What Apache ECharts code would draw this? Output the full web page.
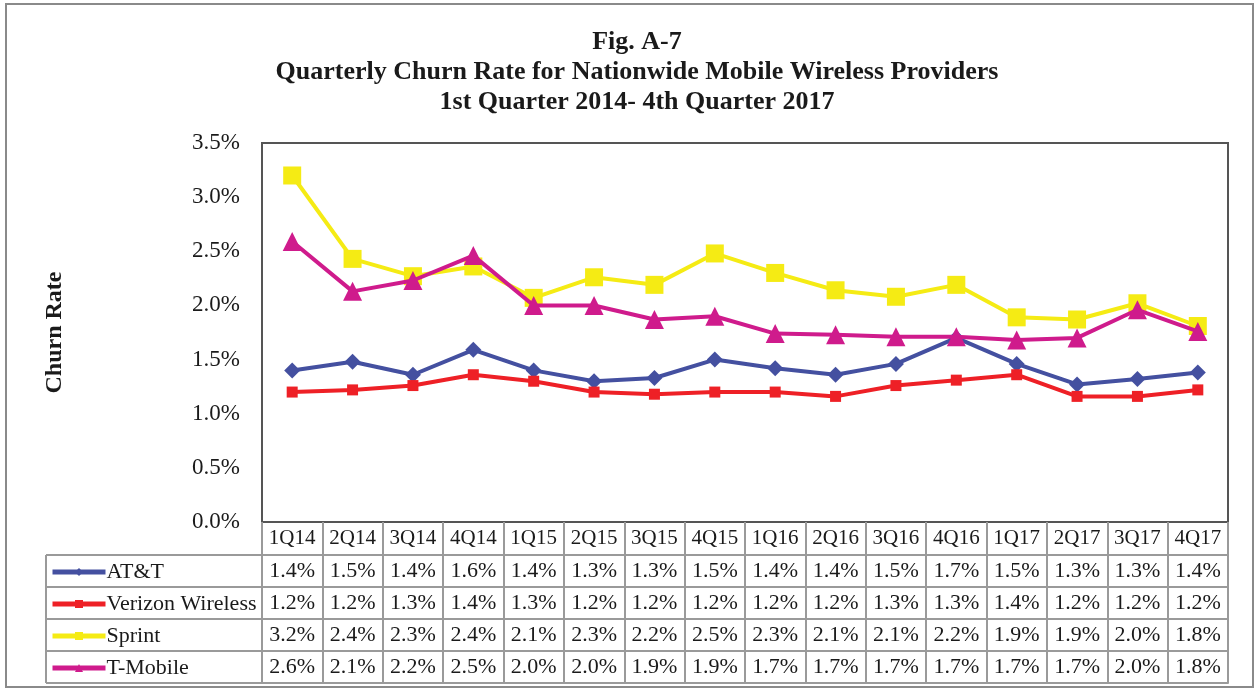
<!DOCTYPE html>
<html>
<head>
<meta charset="utf-8">
<script src="https://cdn.jsdelivr.net/npm/echarts@6/dist/echarts.min.js"></script>
<style>
html,body{margin:0;padding:0;background:#fff;}
#chart{width:1259px;height:692px;}
</style>
</head>
<body>
<div id="chart"></div>
<script>
const quarters = ['1Q14','2Q14','3Q14','4Q14','1Q15','2Q15','3Q15','4Q15','1Q16','2Q16','3Q16','4Q16','1Q17','2Q17','3Q17','4Q17'];
const seriesNames = ['AT&T','Verizon Wireless','Sprint','T-Mobile'];
const att =      [1.40,1.48,1.36,1.59,1.40,1.30,1.33,1.50,1.42,1.36,1.46,1.70,1.46,1.27,1.32,1.38];
const verizon =  [1.20,1.22,1.26,1.36,1.30,1.20,1.18,1.20,1.20,1.16,1.26,1.31,1.36,1.16,1.16,1.22];
const sprint =   [3.20,2.43,2.27,2.36,2.07,2.26,2.19,2.48,2.30,2.14,2.08,2.19,1.89,1.87,2.02,1.81];
const tmobile =  [2.59,2.13,2.23,2.46,2.00,2.00,1.87,1.90,1.74,1.73,1.71,1.71,1.68,1.70,1.96,1.76];
const yTicks = [0,0.5,1.0,1.5,2.0,2.5,3.0,3.5];

const seriesData = [att, verizon, sprint, tmobile];
const colors = ['#4450A0','#EE2026','#F5EB14','#CF1B8C'];
const symbols = ['diamond','rect','rect','triangle'];
const symbolSizes = [16,11,18,19];

const FONT = 'Liberation Serif';
const GRID_LEFT = 262, GRID_RIGHT = 31, GRID_TOP = 143, GRID_BOTTOM = 170;
const HEADER_H = 33, ROW_H = 32;
const tableColor = '#9a9a9a';
const plotBottomY = 692 - GRID_BOTTOM;

const xAxes = [{
  type: 'category',
  data: quarters,
  gridIndex: 0,
  position: 'bottom',
  boundaryGap: true,
  axisLine: {show: true, lineStyle: {color: '#555', width: 2}},
  axisTick: {show: true, length: HEADER_H, inside: false, alignWithLabel: false, interval: 0, lineStyle: {color: tableColor, width: 2}},
  axisLabel: {interval: 0, fontFamily: FONT, fontSize: 21, color: '#1a1a1a', margin: 6}
}];
seriesData.forEach((arr, i) => {
  xAxes.push({
    type: 'category',
    data: arr.map(v => v.toFixed(1) + '%'),
    gridIndex: 0,
    position: 'bottom',
    offset: HEADER_H + ROW_H * i,
    boundaryGap: true,
    axisLine: {show: true, lineStyle: {color: tableColor, width: 2}},
    axisTick: {show: true, length: ROW_H, inside: false, alignWithLabel: false, interval: 0, lineStyle: {color: tableColor, width: 2}},
    axisLabel: {interval: 0, fontFamily: FONT, fontSize: 22, color: '#1a1a1a', margin: 5}
  });
});
xAxes.push({
  type: 'category',
  data: quarters.map(() => ''),
  gridIndex: 0,
  position: 'bottom',
  offset: HEADER_H + ROW_H * 4,
  axisLine: {show: true, lineStyle: {color: tableColor, width: 2}},
  axisTick: {show: false},
  axisLabel: {show: false}
});

const graphics = [
  {type: 'rect', shape: {x: 6, y: 4, width: 1247, height: 683}, style: {fill: 'none', stroke: '#8a8a8a', lineWidth: 2}, silent: true}
];
for (let i = 0; i <= 4; i++) {
  const y = plotBottomY + HEADER_H + ROW_H * i;
  graphics.push({type: 'line', shape: {x1: 46, y1: y, x2: GRID_LEFT, y2: y}, style: {stroke: tableColor, lineWidth: 2}, silent: true});
}
graphics.push({type: 'line', shape: {x1: 46, y1: plotBottomY + HEADER_H, x2: 46, y2: plotBottomY + HEADER_H + ROW_H * 4}, style: {stroke: tableColor, lineWidth: 2}, silent: true});
graphics.push({type: 'line', shape: {x1: GRID_LEFT, y1: plotBottomY, x2: GRID_LEFT, y2: plotBottomY + HEADER_H}, style: {stroke: tableColor, lineWidth: 2}, silent: true});

const option = {
  animation: false,
  backgroundColor: '#fff',
  title: {
    text: 'Fig. A-7\nQuarterly Churn Rate for Nationwide Mobile Wireless Providers\n1st Quarter 2014- 4th Quarter 2017',
    left: 632, top: 22, textAlign: 'center',
    textStyle: {fontFamily: FONT, fontWeight: 'bold', fontSize: 26, lineHeight: 30, color: '#1a1a1a'}
  },
  legend: {
    data: seriesNames,
    orient: 'vertical',
    left: 45, top: 555,
    itemWidth: 53, itemHeight: 10, itemGap: 8,
    lineStyle: {width: 5},
    textStyle: {fontFamily: FONT, fontSize: 22, lineHeight: 24, color: '#1a1a1a', padding: [0,0,0,-4]},
    selectedMode: false
  },
  grid: {left: GRID_LEFT, right: GRID_RIGHT, top: GRID_TOP, bottom: GRID_BOTTOM, show: true, borderColor: '#555', borderWidth: 2, backgroundColor: '#fff'},
  xAxis: xAxes,
  yAxis: {
    type: 'value', min: 0, max: 3.5, interval: 0.5,
    name: 'Churn Rate', nameLocation: 'middle', nameRotate: 90, nameGap: 195,
    nameTextStyle: {fontFamily: FONT, fontWeight: 'bold', fontSize: 24, color: '#1a1a1a'},
    axisLine: {show: false}, axisTick: {show: false}, splitLine: {show: false},
    axisLabel: {fontFamily: FONT, fontSize: 23, color: '#1a1a1a', margin: 22, formatter: v => v.toFixed(1) + '%'}
  },
  series: seriesData.map((arr, i) => ({
    name: seriesNames[i], type: 'line', data: arr, xAxisIndex: 0,
    symbol: symbols[i], symbolSize: symbolSizes[i], showAllSymbol: true,
    lineStyle: {color: colors[i], width: 4},
    itemStyle: {color: colors[i]},
    z: 2 + i
  })),
  graphic: graphics
};
echarts.init(document.getElementById('chart')).setOption(option);
</script>
</body>
</html>
